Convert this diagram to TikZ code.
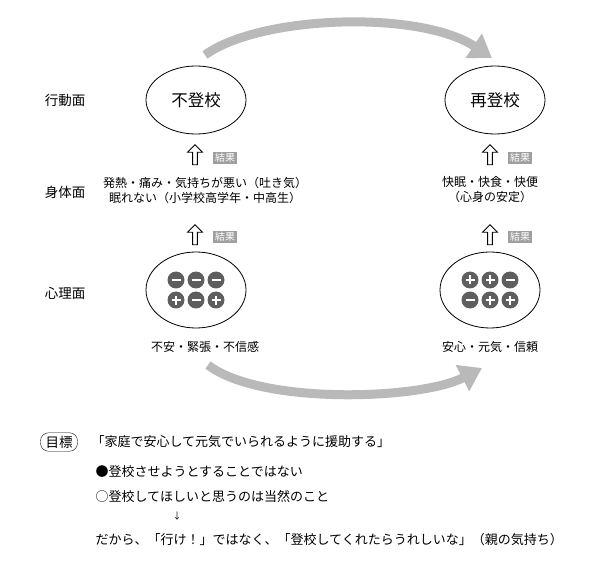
\documentclass[tikz,border=0pt]{standalone}
\usepackage{fontspec}
\setmainfont{Noto Sans CJK JP}
\usetikzlibrary{arrows.meta,shapes.geometric,shapes.arrows,positioning,calc}
\tikzset{
  face/.style={font=\fontsize{13.5}{16}\selectfont},
  state/.style={ellipse,draw,thick,minimum width=100pt,minimum height=68pt,font=\fontsize{16.5}{18}\selectfont},
  mind/.style={ellipse,draw,thick,minimum width=100pt,minimum height=76pt},
  tag/.style={fill=gray!75,text=white,font=\fontsize{10}{11}\selectfont,inner xsep=2pt,inner ysep=1.5pt},
  body/.style={align=center,font=\fontsize{12}{15}\selectfont},
  big/.style={line width=9pt,draw=gray!55,-{Triangle[length=22pt,width=28pt]}},
  up/.style={draw,thick,single arrow,shape border rotate=90,minimum height=20pt,minimum width=15pt,single arrow head extend=3pt,inner sep=1pt},
  line/.style={anchor=west,font=\fontsize{13}{15}\selectfont}
}
\newcommand{\mn}[1]{\fill[gray!20!black!70] (#1) circle (8.5pt);\draw[white,line width=2pt] ($(#1)+(-4.5pt,0)$)--($(#1)+(4.5pt,0)$);}
\newcommand{\pl}[1]{\mn{#1}\draw[white,line width=2pt] ($(#1)+(0,-4.5pt)$)--($(#1)+(0,4.5pt)$);}
\begin{document}
\begin{tikzpicture}[x=1pt,y=-1pt]
\useasboundingbox (0,0) rectangle (600,564);
% labels
\node[face] (act) at (65,100){行動面};
\node[face] (phys) at (65,192){身体面};
\node[face] (psy) at (65,293){心理面};
% top states
\node[state] (absent) at (196,100){不登校};
\node[state] (back) at (495,100){再登校};
% body
\node[body] (bodyL) at (205,190){発熱・痛み・気持ちが悪い（吐き気）\\眠れない（小学校高学年・中高生）};
\node[body] (bodyR) at (490,190){快眠・快食・快便\\（心身の安定）};
% minds
\node[mind] (mindL) at (196,290){};
\node[mind] (mindR) at (490,290){};
\node[body] (feelL) at (205,347){不安・緊張・不信感};
\node[body] (feelR) at (490,347){安心・元気・信頼};
% up arrows and tags
\foreach \x/\n in {195/L,490/R}{
  \node[up] (u1\n) at (\x,156){};
  \node[up] (u2\n) at (\x,236){};
  \node[tag] (t1\n) at (\x+30,158) {結果};
  \node[tag] (t2\n) at (\x+30,237) {結果};
}
% plus/minus
\coordinate (l11) at (176,280);\coordinate (l12) at (196,280);\coordinate (l13) at (216,280);
\coordinate (l21) at (176,300);\coordinate (l22) at (196,300);\coordinate (l23) at (216,300);
\mn{l11}\mn{l12}\mn{l13}\pl{l21}\mn{l22}\pl{l23}
\coordinate (r11) at (470,280);\coordinate (r12) at (490,280);\coordinate (r13) at (510,280);
\coordinate (r21) at (470,300);\coordinate (r22) at (490,300);\coordinate (r23) at (510,300);
\pl{r11}\pl{r12}\mn{r13}\mn{r21}\pl{r22}\pl{r23}
% big arrows
\coordinate (t0) at (205,55);\coordinate (t1) at (492,58);
\draw[big] (t0) .. controls (260,15) and (420,10) .. (t1);
\coordinate (b0) at (208,365);\coordinate (b1) at (482,368);
\draw[big] (b0) .. controls (260,405) and (420,400) .. (b1);
% goal
\node[draw,rounded corners=8pt,font=\fontsize{13.5}{15}\selectfont,inner xsep=5pt,inner ysep=3pt] (goal) at (59,442){目標};
\node[line] (g0) at (88,442){「家庭で安心して元気でいられるように援助する」};
\node[line] (g1) at (92,472){●登校させようとすることではない};
\node[line] (g2) at (92,497){○登校してほしいと思うのは当然のこと};
\node[font=\fontsize{9}{10}\selectfont] (g3) at (177,516){↓};
\node[line] (g4) at (92,540){だから、「行け！」ではなく、「登校してくれたらうれしいな」（親の気持ち）};
\end{tikzpicture}
\end{document}
